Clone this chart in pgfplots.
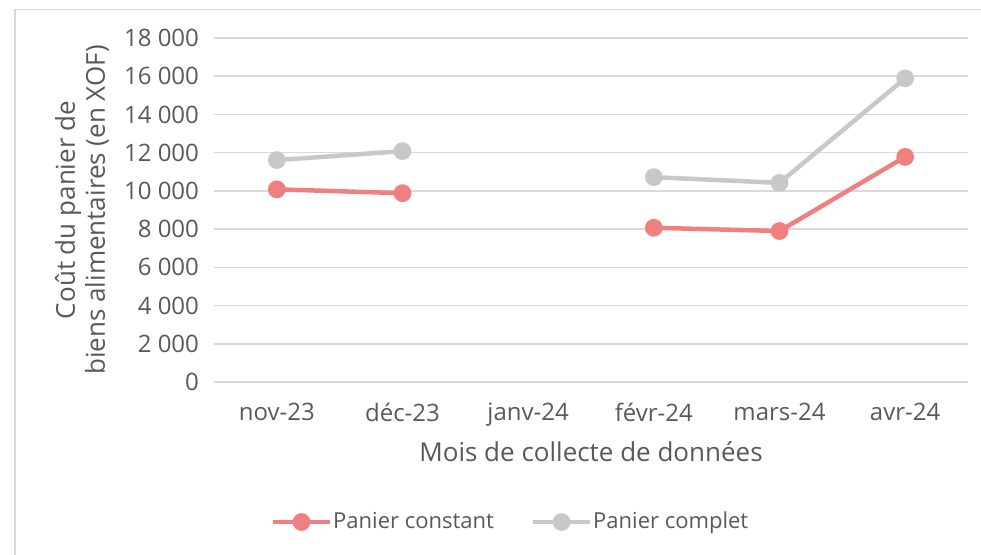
\documentclass[border=0pt]{standalone}
\usepackage{fontspec}
\setmainfont{Open Sans}
\usepackage{pgfplots}
\pgfplotsset{compat=1.18}
\definecolor{txt}{HTML}{595959}
\definecolor{gridc}{HTML}{D9D9D9}
\definecolor{cred}{HTML}{F08080}
\definecolor{cgray}{HTML}{C8C8C8}
\begin{document}
\begin{tikzpicture}
\path[use as bounding box] (0,0) rectangle (490.5pt,277pt);
\draw[gridc, line width=0.8pt] (7.5pt,-10pt) rectangle (500pt,272.3pt);
\begin{axis}[
  at={(107pt,86pt)}, anchor=south west,
  scale only axis, width=377pt, height=172pt,
  xmin=-0.5, xmax=5.5, ymin=0, ymax=18000,
  scaled y ticks=false,
  axis x line*=bottom, axis y line*=left,
  y axis line style={draw=none},
  x axis line style={gridc, line width=0.8pt},
  xtick={0,1,2,3,4,5},
  xticklabels={nov-23,déc-23,janv-24,févr-24,mars-24,avr-24},
  major x tick style={draw=none},
  extra x ticks={-0.5,0.5,1.5,2.5,3.5,4.5,5.5},
  extra x tick labels={},
  extra x tick style={tick style={gridc, line width=0.8pt}, major tick length=3pt, tick align=outside, grid=none},
  ytick={0,2000,...,18000},
  yticklabels={0,2 000,4 000,6 000,8 000,10 000,12 000,14 000,16 000,18 000},
  ytick style={draw=none},
  ymajorgrids, grid style={gridc, line width=0.8pt},
  tick label style={font=\fontsize{12}{14}\selectfont, text=txt},
  xticklabel style={yshift=-7pt},
  yticklabel style={xshift=-4pt},
  unbounded coords=jump,
  legend columns=2,
  legend style={draw=none, at={(0.3926,-0.407)}, anchor=center, font=\fontsize{11}{13}\selectfont, text=txt,
    nodes={inner xsep=0.5pt},
    /tikz/every even column/.append style={column sep=18pt}},
  legend image code/.code={\draw[mark repeat=2,mark phase=2] plot coordinates {(0cm,0cm) (0.5cm,0cm) (1cm,0cm)};},
]
\addplot[cred, line width=2.25pt, mark=*, mark size=3.3pt, mark options={solid}] coordinates {
  (0,10080) (1,9880) (2,nan) (3,8070) (4,7900) (5,11780)};
\addlegendentry{Panier constant}
\addplot[cgray, line width=2.25pt, mark=*, mark size=3.3pt, mark options={solid}] coordinates {
  (0,11610) (1,12080) (2,nan) (3,10720) (4,10420) (5,15890)};
\addlegendentry{Panier complet}
\end{axis}
\node[rotate=90, align=center, text=txt, font=\fontsize{13}{15}\selectfont] at (41pt,172pt) {Coût du panier de\\biens alimentaires (en XOF)};
\node[text=txt, font=\fontsize{13}{15}\selectfont] at (295.5pt,51pt) {Mois de collecte de données};
\end{tikzpicture}
\end{document}
